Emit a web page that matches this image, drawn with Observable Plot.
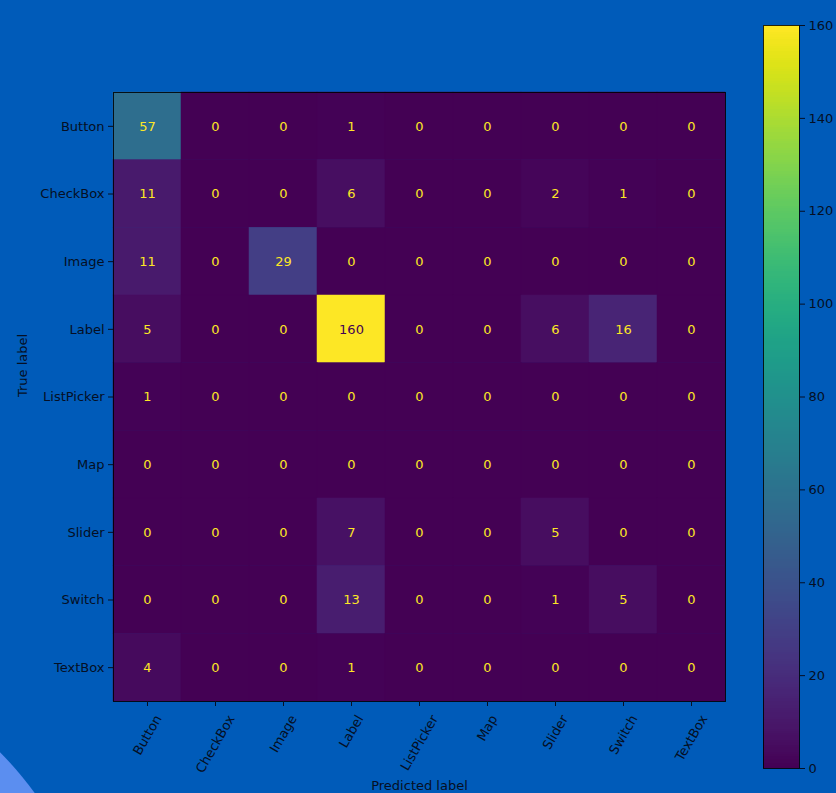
<!DOCTYPE html>
<html><head><meta charset="utf-8">
<script src="https://cdn.jsdelivr.net/npm/d3@7"></script>
<script src="https://cdn.jsdelivr.net/npm/@observablehq/plot@0.6"></script>
<style>
html,body{margin:0;padding:0;background:#005bb9;overflow:hidden}
#wrap{position:relative;width:836px;height:793px;overflow:hidden;background:#005bb9}
#blob{position:absolute;left:-602px;top:648px;width:704px;height:704px;border-radius:50%;background:#5b8ef0}
#wrap svg{position:absolute;left:0;top:0}
</style></head><body><div id="wrap"><div id="blob"></div></div>
<script>
const labels = ["Button","CheckBox","Image","Label","ListPicker","Map","Slider","Switch","TextBox"];
const rowButton     = [57,0,0,1,0,0,0,0,0];
const rowCheckBox   = [11,0,0,6,0,0,2,1,0];
const rowImage      = [11,0,29,0,0,0,0,0,0];
const rowLabel      = [5,0,0,160,0,0,6,16,0];
const rowListPicker = [1,0,0,0,0,0,0,0,0];
const rowMap        = [0,0,0,0,0,0,0,0,0];
const rowSlider     = [0,0,0,7,0,0,5,0,0];
const rowSwitch     = [0,0,0,13,0,0,1,5,0];
const rowTextBox    = [4,0,0,1,0,0,0,0,0];
const colorbarTicks = [0,20,40,60,80,100,120,140,160];
const xTitle = "Predicted label";
const yTitle = "True label";

const matrix = [rowButton,rowCheckBox,rowImage,rowLabel,rowListPicker,rowMap,rowSlider,rowSwitch,rowTextBox];
const cells = [];
matrix.forEach((row,i)=>row.forEach((v,j)=>cells.push({t:labels[i],p:labels[j],v})));

const W=836,H=793,L=113,T=92,R=725,B=701;
const ink = "#050f24";
const font = "DejaVu Sans";
const canvas = document.createElement("canvas").getContext("2d");
canvas.font = "13px 'DejaVu Sans'";
const s60 = Math.sin(Math.PI/3), c60 = Math.cos(Math.PI/3);

const xLabelMarks = labels.map(lab => {
  const w = canvas.measureText(lab).width;
  const bh = w*s60 + 15*c60;
  return Plot.text([lab],{x:d=>d, text:d=>d, frameAnchor:"bottom", dy: 11 + bh/2, rotate:-60, textAnchor:"middle", lineAnchor:"middle", fontSize:13, fill:ink});
});

const main = Plot.plot({
  width:W, height:H, marginLeft:L, marginTop:T, marginRight:W-R, marginBottom:H-B,
  style:{background:"transparent", fontFamily:font, fontSize:"13px", color:ink, overflow:"visible"},
  x:{domain:labels, padding:0, round:false, axis:null},
  y:{domain:labels, padding:0, round:false, axis:null},
  color:{type:"linear", scheme:"viridis", domain:[0,160]},
  marks:[
    Plot.cell(cells,{x:"p",y:"t",fill:"v",inset:0,stroke:"v",strokeWidth:0.5}),
    Plot.text(cells,{x:"p",y:"t",text:d=>String(d.v),fill:d=>d.v>=80?"#440154":"#fde725",fontSize:13}),
    Plot.frame({stroke:"#000", strokeOpacity:0.85}),
    Plot.axisY({anchor:"left", tickSize:5, tickPadding:4, label:null, fontSize:13}),
    Plot.axisX({anchor:"bottom", tickSize:5, tickFormat:()=>"", label:null}),
    ...xLabelMarks,
    Plot.text([yTitle],{text:d=>d, frameAnchor:"left", dx:-91, rotate:-90, fontSize:13, fill:ink}),
    Plot.text([xTitle],{text:d=>d, frameAnchor:"bottom", dy:84, lineAnchor:"middle", fontSize:13, fill:ink})
  ]
});

const steps = d3.range(0,160,0.5);
const cb = Plot.plot({
  width:W, height:H, marginLeft:763, marginRight:W-799, marginTop:25, marginBottom:H-768,
  style:{background:"transparent", fontFamily:font, fontSize:"13px", color:ink, overflow:"visible"},
  y:{domain:[0,160], axis:null},
  color:{type:"linear", scheme:"viridis", domain:[0,160]},
  marks:[
    Plot.rect(steps,{y1:d=>d, y2:d=>d+0.5, fill:d=>d+0.25, shapeRendering:"crispEdges"}),
    Plot.frame({stroke:"#000", strokeOpacity:0.85}),
    Plot.axisY({anchor:"right", ticks:colorbarTicks, tickSize:5, tickPadding:4, label:null, fontSize:13})
  ]
});

const wrap = document.getElementById("wrap");
wrap.appendChild(main);
wrap.appendChild(cb);
</script>
</body></html>
